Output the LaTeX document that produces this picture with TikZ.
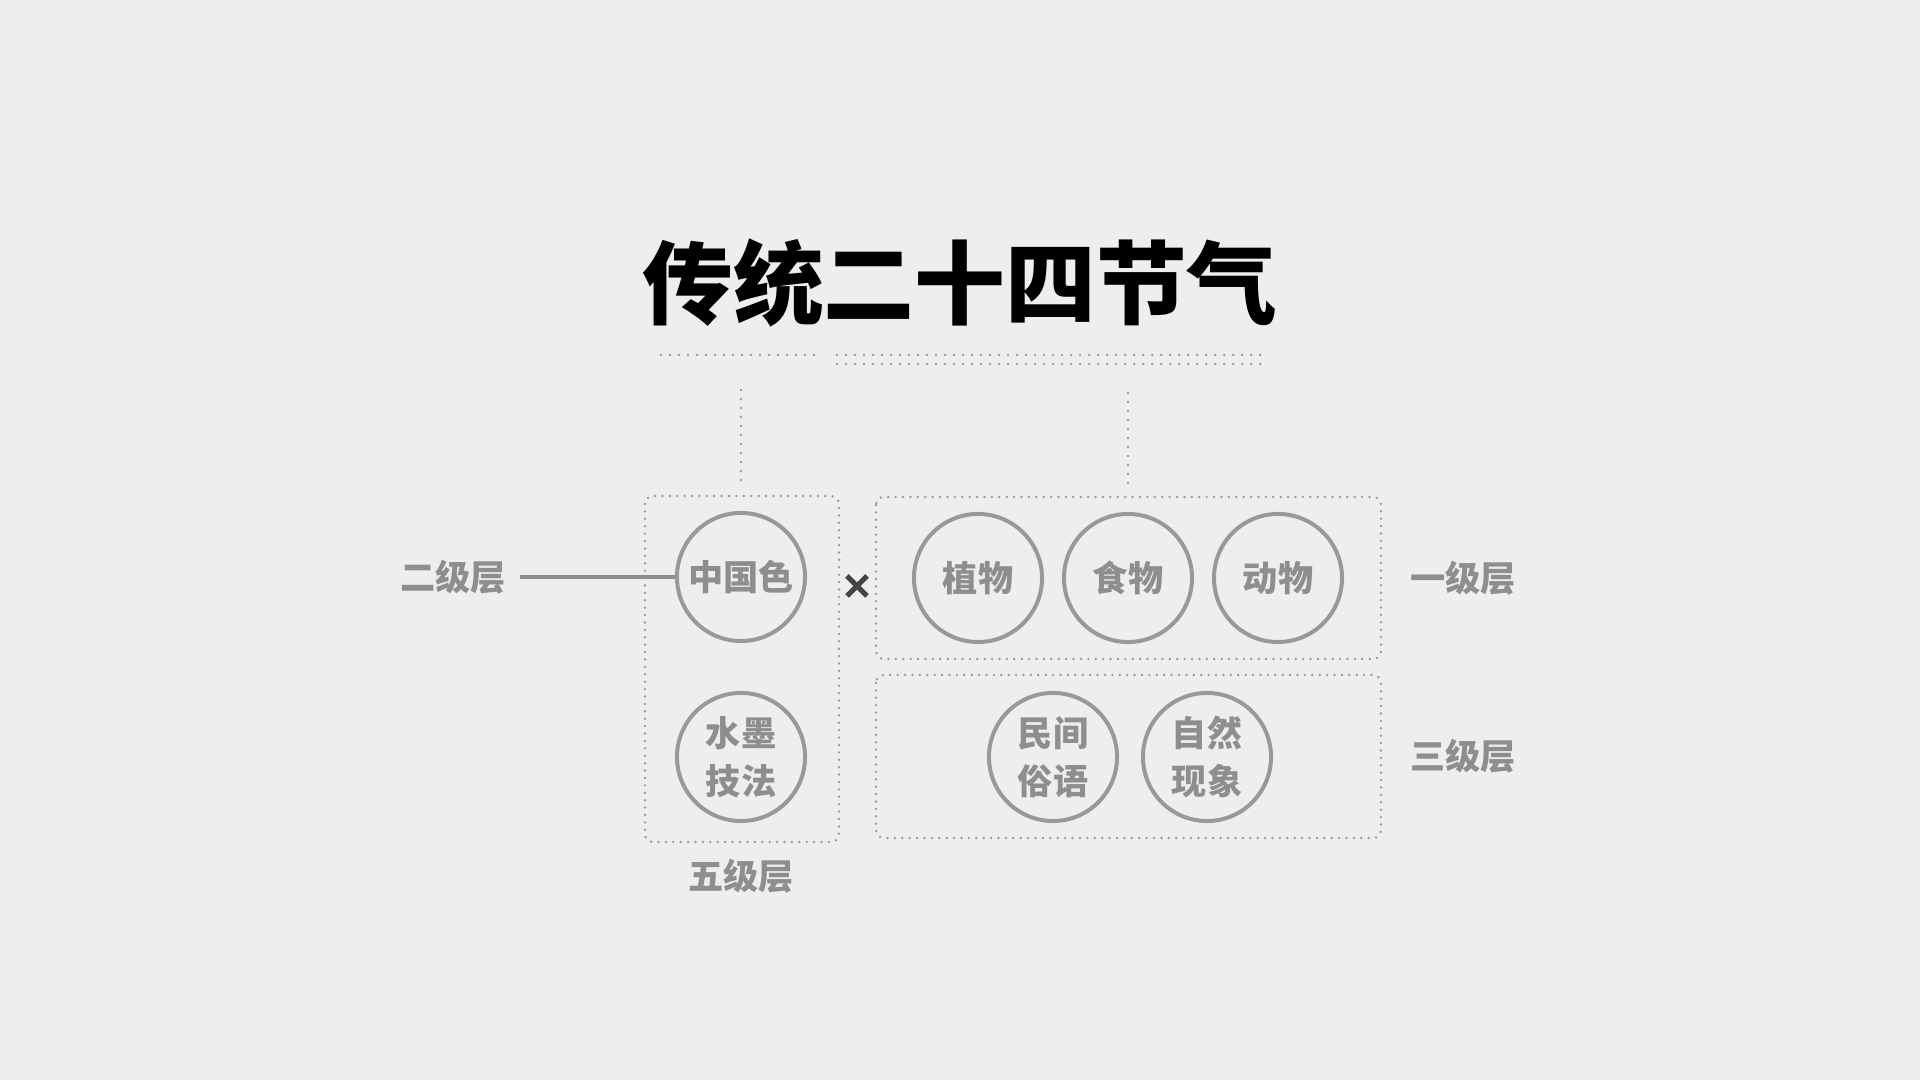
\documentclass[tikz,border=0pt]{standalone}
\usepackage{fontspec}
\newfontfamily\cjk{Noto Sans CJK SC}
\usepackage{xcolor}
\usepackage{tikz}
\usetikzlibrary{positioning}
\definecolor{bgcol}{HTML}{EEEEEE}
\definecolor{labelgray}{HTML}{8E8E8E}
\definecolor{ringgray}{HTML}{999999}
\definecolor{dotgray}{HTML}{9A9A9A}
\definecolor{crossdark}{HTML}{444444}

\begin{document}
\begin{tikzpicture}[
    x=0.01cm, y=-0.01cm,
    title/.style={inner sep=0pt, text=black, font=\cjk\bfseries\fontsize{25.8pt}{30pt}\selectfont},
    item/.style={circle, draw=ringgray, line width=0.04cm, minimum size=1.28cm, inner sep=0pt, align=center, text=labelgray, font=\cjk\bfseries\fontsize{10pt}{13.8pt}\selectfont},
    level/.style={inner sep=0pt, text=labelgray, font=\cjk\bfseries\fontsize{10pt}{12pt}\selectfont},
    group/.style={draw=dotgray, line width=0.027cm, dash pattern=on 0pt off 0.074cm, line cap=round, rounded corners=0.08cm},
    dotline/.style={draw=dotgray, line width=0.027cm, dash pattern=on 0pt off 0.09cm, line cap=round},
    link/.style={draw=labelgray, line width=0.045cm},
    crossline/.style={draw=crossdark, line width=0.05cm}
]
    % Background
    \fill[bgcol] (0,0) rectangle (1920,1080);

    % Title
    \node[title] (title) at (960,283) {传统二十四节气};

    % Underlines
    \coordinate (ulA) at (661,355);
    \coordinate (ulB) at (815,355);
    \coordinate (ulC) at (837,355);
    \coordinate (ulD) at (1264,355);
    \coordinate (ulE) at (837,364);
    \coordinate (ulF) at (1264,364);
    \draw[dotline] (ulA) -- (ulB);
    \draw[dotline] (ulC) -- (ulD);
    \draw[dotline] (ulE) -- (ulF);

    % Groups
    \draw[group] (645,496) rectangle (839,842);
    \draw[group] (876,497) rectangle (1381,659);
    \draw[group] (876,675) rectangle (1381,838);

    % Drop lines
    \coordinate (dropA) at (741,390);
    \coordinate (dropAend) at (741,484);
    \coordinate (dropB) at (1128,393);
    \coordinate (dropBend) at (1128,487);
    \draw[dotline] (dropA) -- (dropAend);
    \draw[dotline] (dropB) -- (dropBend);

    % Circles
    \node[item] (color) at (741,577) {中国色};
    \node[item] (ink) at (741,757) {水墨\\技法};
    \node[item] (plant) at (978,578) {植物};
    \node[item] (food) at (1128,578) {食物};
    \node[item] (animal) at (1278,578) {动物};
    \node[item] (saying) at (1053,757) {民间\\俗语};
    \node[item] (nature) at (1207,757) {自然\\现象};

    % Cross
    \coordinate (cross) at (857,586);
    \draw[crossline] (cross) ++(-10,-10) -- ++(20,20);
    \draw[crossline] (cross) ++(10,-10) -- ++(-20,20);

    % Levels
    \node[level] (lv2) at (453,577) {二级层};
    \node[level] (lv1) at (1463,578) {一级层};
    \node[level] (lv3) at (1463,756) {三级层};
    \node[level] (lv5) at (741,876) {五级层};

    \draw[link] (lv2.east) ++(14,0) -- (color.west);

\end{tikzpicture}
\end{document}
